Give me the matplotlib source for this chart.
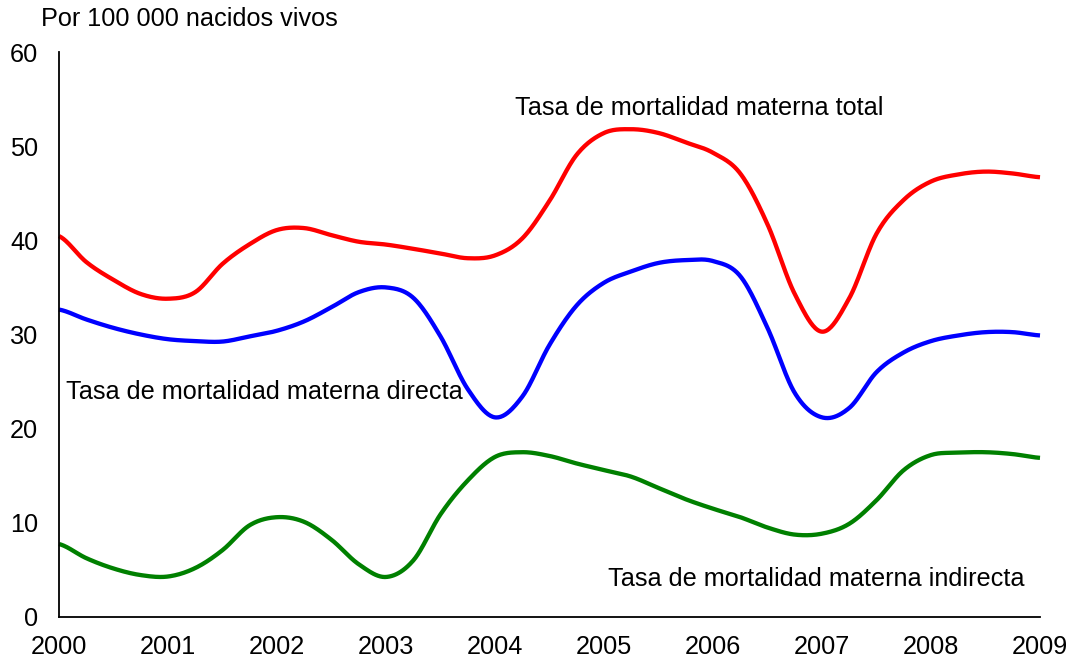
import numpy as np
import matplotlib
matplotlib.use("Agg")
import matplotlib.pyplot as plt

# tasas por 100 000 nacidos vivos, leidas cada trimestre (2000 a 2009)
periodo = np.arange(2000, 2009.001, 0.25)
total = [40.45, 37.7, 35.8, 34.3, 33.8, 34.5, 37.5, 39.6, 41.1, 41.3, 40.55, 39.85,
         39.55, 39.1, 38.6, 38.1, 38.4, 40.2, 44.2, 49.1, 51.4, 51.8, 51.4, 50.4,
         49.3, 47.1, 41.7, 34.3, 30.3, 33.85, 40.7, 44.3, 46.25, 47.0, 47.3, 47.1, 46.7]
directa = [32.65, 31.6, 30.7, 30.0, 29.5, 29.3, 29.25, 29.8, 30.4, 31.4, 32.9, 34.5,
           35.0, 33.9, 29.8, 24.2, 21.2, 23.4, 28.9, 33.1, 35.5, 36.7, 37.6, 37.9,
           37.8, 36.2, 30.7, 23.8, 21.2, 22.2, 26.0, 28.1, 29.3, 29.9, 30.25, 30.25, 29.9]
indirecta = [7.75, 6.25, 5.15, 4.45, 4.3, 5.2, 7.1, 9.75, 10.6, 10.1, 8.2, 5.6,
             4.25, 6.0, 10.9, 14.5, 17.0, 17.5, 17.1, 16.3, 15.6, 14.9, 13.7, 12.5,
             11.5, 10.6, 9.5, 8.75, 8.85, 9.9, 12.4, 15.6, 17.2, 17.45, 17.5, 17.3, 16.9]
anios = list(range(2000, 2010))
yticks = [0, 10, 20, 30, 40, 50, 60]


def suavizar(x, y, n=24):
    # curva catmull-rom que pasa por todos los puntos
    y = np.asarray(y, dtype=float)
    p = np.concatenate([[y[0]], y, [y[-1]]])
    xs, ys = [], []
    for i in range(len(y) - 1):
        t = np.linspace(0, 1, n, endpoint=False)
        p0, p1, p2, p3 = p[i], p[i + 1], p[i + 2], p[i + 3]
        v = 0.5 * (2 * p1 + (-p0 + p2) * t + (2 * p0 - 5 * p1 + 4 * p2 - p3) * t ** 2
                   + (-p0 + 3 * p1 - 3 * p2 + p3) * t ** 3)
        xs.append(x[i] + (x[i + 1] - x[i]) * t)
        ys.append(v)
    xs.append([x[-1]])
    ys.append([y[-1]])
    return np.concatenate(xs), np.concatenate(ys)


plt.rcParams['font.family'] = ['Liberation Sans', 'DejaVu Sans']
fs = 18.2

fig = plt.figure(figsize=(10.73, 6.63), dpi=100)
ax = fig.add_axes([59 / 1073, 46 / 663, 981 / 1073, 565 / 663])

for serie, color in [(total, "#ff0000"), (directa, "#0000ff"), (indirecta, "#008000")]:
    xs, ys = suavizar(periodo, serie)
    ax.plot(xs, ys, color=color, lw=3.1, solid_capstyle="butt", clip_on=False)

ax.set_xlim(2000, 2009)
ax.set_ylim(0, 60)
ax.set_xticks(anios)
ax.set_xticklabels([str(a) for a in anios])
ax.set_yticks(yticks)
ax.tick_params(axis="both", length=0, labelsize=fs, colors="black")
ax.tick_params(axis="y", pad=15)
ax.tick_params(axis="x", pad=13)
for s in ["top", "right"]:
    ax.spines[s].set_visible(False)
for s in ["left", "bottom"]:
    ax.spines[s].set_linewidth(1.3)
    ax.spines[s].set_color("black")

ax.text(2004.18, 53.3, "Tasa de mortalidad materna total", fontsize=fs, va="baseline")
ax.text(2000.06, 23.14, "Tasa de mortalidad materna directa", fontsize=fs, va="baseline")
ax.text(2005.04, 3.32, "Tasa de mortalidad materna indirecta", fontsize=fs, va="baseline")
fig.text(41 / 1073, 1 - 25.7 / 663, "Por 100 000 nacidos vivos", fontsize=fs, va="baseline")

plt.savefig("out.png", dpi=100)
